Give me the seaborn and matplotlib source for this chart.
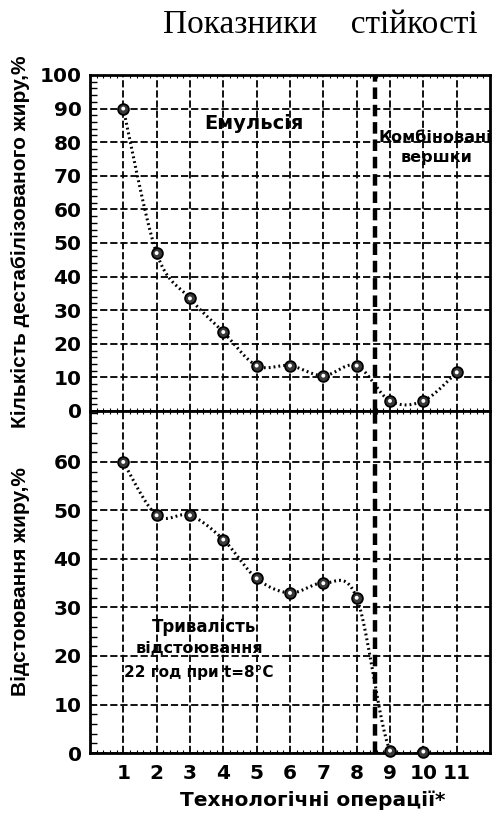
import numpy as np
import pandas as pd
import matplotlib
matplotlib.use("Agg")
import matplotlib.pyplot as plt
import seaborn as sns
from matplotlib.ticker import MultipleLocator

# ---- data ----
ops = [1, 2, 3, 4, 5, 6, 7, 8, 9, 10, 11]
destab_fat = [90, 47, 33.5, 23.5, 13.5, 13.5, 10.5, 13.5, 3, 3, 11.5]
ops_settle = [1, 2, 3, 4, 5, 6, 7, 8, 9, 10]
settle_fat = [60, 49, 49, 44, 36, 33, 35, 32, 0.5, 0.3]
xtick_labels = ["1", "2", "3", "4", "5", "6", "7", "8", "9", "10", "11"]
top_yticks = [0, 10, 20, 30, 40, 50, 60, 70, 80, 90, 100]
bot_yticks = [0, 10, 20, 30, 40, 50, 60]
divider_x = 8.55

title = "Показники    стійкості"
ylabel_top = "Кількість дестабілізованого жиру,%"
ylabel_bot = "Відстоювання жиру,%"
xlabel = "Технологічні операції*"


def smooth(xs, ys, n=30):
    """Catmull-Rom rendering of the line through the points (Excel-like smoothing)."""
    P = np.column_stack([xs, ys]).astype(float)
    P = np.vstack([P[0], P, P[-1]])
    out = []
    t = np.linspace(0, 1, n)[:, None]
    for i in range(1, len(P) - 2):
        p0, p1, p2, p3 = P[i - 1], P[i], P[i + 1], P[i + 2]
        c1 = p1 + (p2 - p0) / 6.0
        c2 = p2 - (p3 - p1) / 6.0
        seg = ((1 - t) ** 3) * p1 + 3 * ((1 - t) ** 2) * t * c1 + 3 * (1 - t) * t ** 2 * c2 + t ** 3 * p2
        out.append(seg if i == 1 else seg[1:])
    s = np.vstack(out)
    return pd.DataFrame({"x": s[:, 0], "y": s[:, 1]})


sns.set_theme(style="white")
plt.rcParams["font.family"] = ["DejaVu Sans"]
plt.rcParams["text.color"] = "black"
plt.rcParams["axes.labelcolor"] = "black"
plt.rcParams["xtick.color"] = "black"
plt.rcParams["ytick.color"] = "black"

fig = plt.figure(figsize=(4.94, 8.14), dpi=100)
ax1 = fig.add_axes([0.182, 0.4951, 0.810, 0.4128])
ax2 = fig.add_axes([0.182, 0.0749, 0.810, 0.4202])

grid_ls = (0, (4, 1.6))

def style_axis(ax, ymax, yticks, show_x):
    ax.set_xlim(0, 12)
    ax.set_ylim(0, ymax)
    ax.set_xticks(ops)
    ax.set_yticks(yticks)
    ax.yaxis.set_minor_locator(MultipleLocator(2))
    ax.xaxis.set_minor_locator(MultipleLocator(0.2))
    ax.grid(True, which="major", color="black", linestyle=grid_ls, linewidth=1.3)
    ax.grid(False, which="minor")
    ax.tick_params(axis="both", which="both", direction="in", colors="black")
    ax.tick_params(axis="y", which="major", length=0, pad=6, labelsize=14.5)
    ax.tick_params(axis="y", which="minor", length=5, width=1, left=True)
    ax.tick_params(axis="x", which="minor", length=2.5, width=0.8, top=True, bottom=True)
    ax.tick_params(axis="x", which="major", length=0, pad=8, labelsize=14.5)
    for lab in ax.get_yticklabels():
        lab.set_fontweight("bold")
        lab.set_color("black")
    if show_x:
        ax.set_xticklabels(xtick_labels, fontweight="bold", color="black")
    else:
        ax.set_xticklabels([])
    for sp in ax.spines.values():
        sp.set_visible(True)
        sp.set_color("black")
        sp.set_linewidth(2)
    ax.set_xlabel("")
    ax.set_ylabel("")


def draw_series(ax, xs, ys):
    df = smooth(xs, ys)
    sns.lineplot(data=df, x="x", y="y", ax=ax, sort=False, estimator=None,
                 color="black", linewidth=2.2, linestyle=(0, (0.6, 1.0)), zorder=3)
    pts = pd.DataFrame({"x": xs, "y": ys})
    sns.scatterplot(data=pts, x="x", y="y", ax=ax, s=60, color="#3a3a3a",
                    edgecolor="black", linewidth=1.3, zorder=4, clip_on=False)
    sns.scatterplot(data=pts, x="x", y="y", ax=ax, s=8, color="white",
                    edgecolor="none", linewidth=0, zorder=5, clip_on=False)


draw_series(ax1, ops, destab_fat)
draw_series(ax2, ops_settle, settle_fat)
style_axis(ax1, 100, top_yticks, False)
style_axis(ax2, 70.5, bot_yticks, True)

for ax in (ax1, ax2):
    ax.axvline(divider_x, color="black", linewidth=3.2, linestyle=(0, (2.6, 1.3)), zorder=2)

# annotations
ax1.text(4.92, 85.5, "Емульсія", ha="center", va="center", fontsize=14, fontweight="bold")
ax1.text(10.35, 81.3, "Комбіновані", ha="center", va="center", fontsize=11.5, fontweight="bold")
ax1.text(10.4, 75.4, "вершки", ha="center", va="center", fontsize=11.5, fontweight="bold")
ax2.text(3.42, 26, "Тривалість", ha="center", va="center", fontsize=12, fontweight="bold")
ax2.text(3.27, 21.6, "відстоювання", ha="center", va="center", fontsize=11.5, fontweight="bold")
ax2.text(3.27, 16.5, "22 год при t=8°C", ha="center", va="center", fontsize=11, fontweight="bold")

fig.text(320 / 494, 1 - 25 / 814, title, ha="center", va="center", fontsize=24,
         family=["Liberation Serif", "DejaVu Serif"])
fig.text(21 / 494, 1 - 242 / 814, ylabel_top, rotation=90, ha="center", va="center",
         fontsize=15, fontweight="bold", family=["Liberation Sans", "DejaVu Sans"])
fig.text(21 / 494, 1 - 582 / 814, ylabel_bot, rotation=90, ha="center", va="center",
         fontsize=15, fontweight="bold", family=["Liberation Sans", "DejaVu Sans"])
fig.text(313 / 494, 1 - 800 / 814, xlabel, ha="center", va="center",
         fontsize=14.5, fontweight="bold")

fig.savefig("out.png", dpi=100)
